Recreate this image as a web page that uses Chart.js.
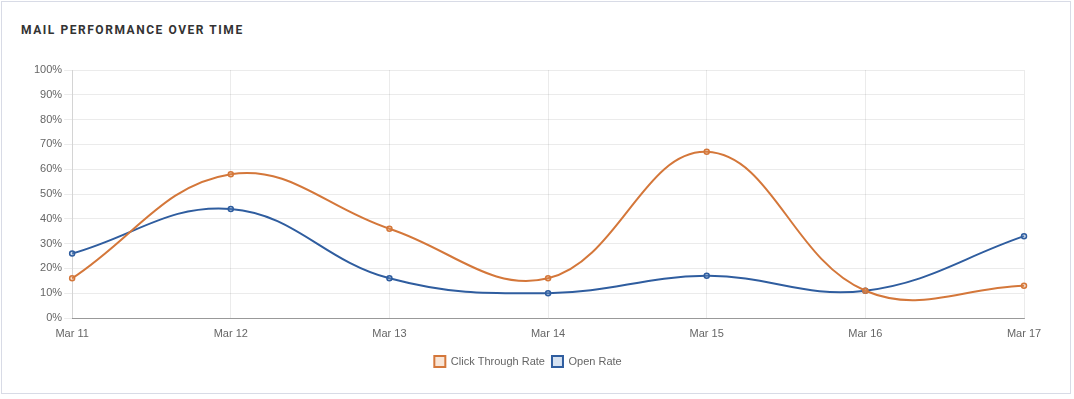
<!DOCTYPE html>
<html>
<head>
<meta charset="utf-8">
<script src="https://cdn.jsdelivr.net/npm/chart.js@4.4.1/dist/chart.umd.min.js"></script>
<style>
  html, body { margin: 0; padding: 0; background: #fff; }
  body { width: 1074px; height: 399px; position: relative; overflow: hidden; }
  .card {
    position: absolute; left: 1px; top: 1px; width: 1068px; height: 391px;
    border: 1px solid #d8dbe6; background: #fff;
  }
  .title {
    position: absolute; left: 21px; top: 23px;
    font-family: Roboto, "Liberation Sans", sans-serif; font-weight: 700;
    font-size: 12px; letter-spacing: 1.55px; color: #333;
  }
  .chart-box { position: absolute; left: 0; top: 50px; width: 1074px; height: 337px; }
</style>
</head>
<body>
<div class="card"></div>
<div class="title">MAIL PERFORMANCE OVER TIME</div>
<div class="chart-box"><canvas id="mailChart"></canvas></div>
<script>
// chart data
var dates = ["Mar 11", "Mar 12", "Mar 13", "Mar 14", "Mar 15", "Mar 16", "Mar 17"];
var clickThroughRate = [16, 58, 36, 16, 67, 11, 13];
var openRate = [26, 44, 16, 10, 17, 11, 33];

var orange = "#d4773a";
var blue = "#2f5d9f";

var ctx = document.getElementById("mailChart").getContext("2d");
var mailChart = new Chart(ctx, {
    type: "line",
    data: {
        labels: dates,
        datasets: [{
            label: "Click Through Rate",
            data: clickThroughRate,
            borderColor: orange,
            backgroundColor: "rgba(233, 150, 90, 0.25)",
            pointBackgroundColor: "rgba(233, 150, 90, 0.25)",
            borderWidth: 2,
            pointRadius: 2.5,
            pointBorderWidth: 1.5,
            tension: 0.4,
            fill: false,
        }, {
            label: "Open Rate",
            data: openRate,
            borderColor: blue,
            backgroundColor: "rgba(120, 160, 210, 0.3)",
            pointBackgroundColor: "rgba(120, 160, 210, 0.3)",
            borderWidth: 2,
            pointRadius: 2.5,
            pointBorderWidth: 1.5,
            tension: 0.4,
            fill: false,
        }],
    },
    options: {
        responsive: true,
        maintainAspectRatio: false,
        animation: false,
        layout: {
            padding: { left: 32, right: 50, top: 20, bottom: 10 },
        },
        scales: {
            x: {
                grid: { color: "rgba(0,0,0,0.08)", drawTicks: false },
                border: { color: "rgba(0,0,0,0.35)" },
                ticks: {
                    color: "#666", padding: 10, maxRotation: 0,
                    font: { family: "'Liberation Sans', Arial, sans-serif", size: 11, lineHeight: 1 },
                },
            },
            y: {
                min: 0,
                max: 100,
                grid: { color: "rgba(0,0,0,0.08)", tickLength: 8 },
                border: { color: "rgba(0,0,0,0.1)" },
                ticks: {
                    stepSize: 10,
                    color: "#666",
                    padding: 2,
                    font: { family: "'Liberation Sans', Arial, sans-serif", size: 11 },
                    callback: function (v) { return v + "%"; },
                },
            },
        },
        plugins: {
            legend: {
                position: "bottom",
                labels: {
                    boxWidth: 11,
                    boxHeight: 11,
                    color: "#666",
                    padding: 7,
                    font: { family: "'Liberation Sans', Arial, sans-serif", size: 11 },
                },
            },
            tooltip: { enabled: false },
        },
    },
});
</script>
</body>
</html>
